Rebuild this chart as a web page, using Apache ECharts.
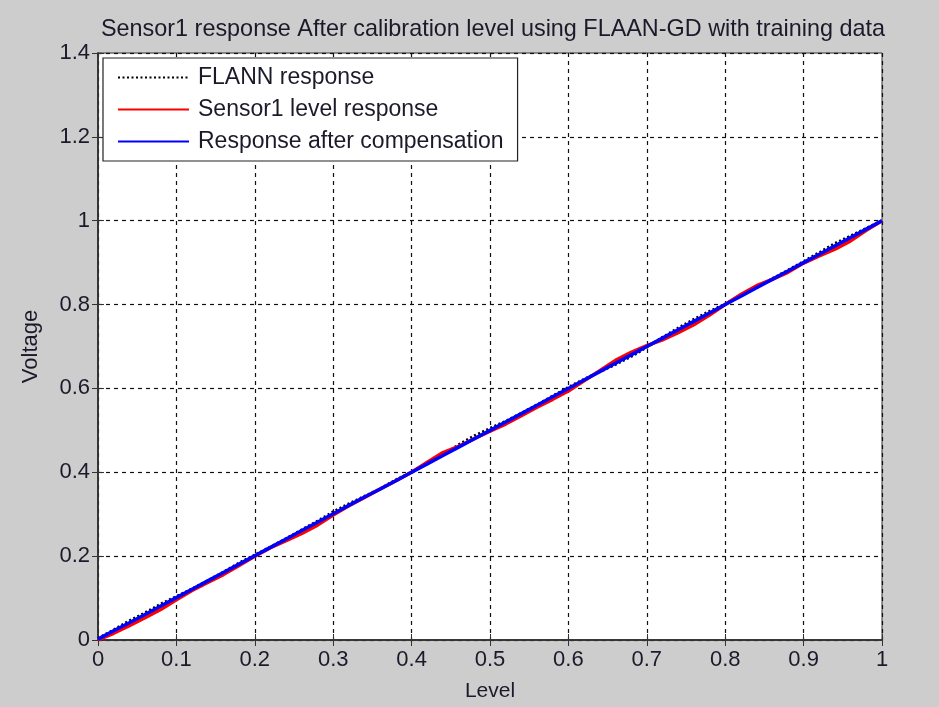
<!DOCTYPE html>
<html>
<head>
<meta charset="utf-8">
<script src="https://cdn.jsdelivr.net/npm/echarts@6/dist/echarts.min.js"></script>
<style>
html,body{margin:0;padding:0;background:#cdcdcd;}
#c{width:939px;height:707px;}
</style>
</head>
<body>
<div id="c"></div>
<script>
const levels = [0,0.02,0.04,0.06,0.08,0.10,0.12,0.14,0.16,0.18,0.20,0.22,0.24,0.26,0.28,0.30,0.32,0.34,0.36,0.38,0.40,0.42,0.44,0.46,0.48,0.50,0.52,0.54,0.56,0.58,0.60,0.62,0.64,0.66,0.68,0.70,0.72,0.74,0.76,0.78,0.80,0.82,0.84,0.86,0.88,0.90,0.92,0.94,0.96,0.98,1.00];
const flannResponse = [0.004,0.024,0.046,0.065,0.086,0.104,0.122,0.142,0.162,0.184,0.203,0.222,0.242,0.263,0.284,0.306,0.325,0.343,0.361,0.382,0.401,0.421,0.440,0.466,0.487,0.505,0.522,0.541,0.561,0.582,0.603,0.622,0.640,0.657,0.676,0.698,0.722,0.744,0.765,0.784,0.801,0.823,0.840,0.862,0.882,0.903,0.924,0.946,0.964,0.982,1.000];
const sensorResponse = [0.000,0.016,0.034,0.053,0.073,0.096,0.118,0.137,0.156,0.178,0.200,0.220,0.237,0.254,0.274,0.298,0.320,0.340,0.360,0.380,0.400,0.424,0.447,0.462,0.480,0.498,0.515,0.535,0.555,0.574,0.594,0.618,0.642,0.667,0.686,0.702,0.716,0.733,0.752,0.775,0.800,0.824,0.845,0.860,0.877,0.899,0.916,0.932,0.952,0.977,1.000];
const compensated = [0.002,0.022,0.041,0.061,0.081,0.101,0.121,0.141,0.161,0.181,0.201,0.221,0.241,0.261,0.281,0.301,0.321,0.341,0.360,0.380,0.400,0.420,0.440,0.460,0.480,0.500,0.520,0.540,0.560,0.580,0.600,0.620,0.640,0.660,0.680,0.700,0.720,0.740,0.760,0.780,0.800,0.820,0.840,0.860,0.880,0.900,0.920,0.940,0.960,0.980,1.000];
const xTicks = [0,0.1,0.2,0.3,0.4,0.5,0.6,0.7,0.8,0.9,1];
const yTicks = [0,0.2,0.4,0.6,0.8,1,1.2,1.4];

const FONT = '"Liberation Sans", Arial, sans-serif';
const pair = arr => levels.map((x,i)=>[x,arr[i]]);
const fmt = v => (Math.round(v*10)/10).toString();
const gridLine = {show:true, lineStyle:{color:'#111', width:1.2, type:[4,4]}};
const chart = echarts.init(document.getElementById('c'), null, {renderer:'canvas'});
chart.setOption({
  backgroundColor:'#cdcdcd',
  animation:false,
  title:{
    text:'Sensor1 response After calibration level using FLAAN-GD with training data',
    left:96, top:13,
    textStyle:{fontFamily:FONT, fontSize:23.4, fontWeight:'normal', color:'#1a1a2a'}
  },
  grid:{left:98, right:57, top:53, bottom:64, show:true, backgroundColor:'#fff', borderColor:'#333', borderWidth:1},
  legend:{
    orient:'vertical', left:103, top:58,
    backgroundColor:'#fff', borderColor:'#222', borderWidth:1.2,
    padding:[8,14,8,14], itemGap:9, itemWidth:71, itemHeight:14,
    itemStyle:{opacity:0},
    textStyle:{fontFamily:FONT, fontSize:23, color:'#1a1a2a', lineHeight:23, padding:[0,0,0,4]},
    data:['FLANN response','Sensor1 level response','Response after compensation']
  },
  xAxis:[{
    type:'value', min:0, max:1, interval:0.1, position:'bottom',
    name:'Level', nameLocation:'middle', nameGap:41,
    nameTextStyle:{fontFamily:FONT, fontSize:21, color:'#1a1a2a'},
    axisLine:{show:true, lineStyle:{color:'#333', width:1.5}},
    axisTick:{show:true, inside:true, length:6, lineStyle:{color:'#333'}},
    axisLabel:{fontFamily:FONT, fontSize:22, color:'#1a1a2a', margin:9, formatter:fmt},
    splitLine:gridLine
  },{
    type:'value', min:0, max:1, interval:0.1, position:'top',
    axisLine:{show:true, lineStyle:{color:'#333', width:1.5}},
    axisTick:{show:true, inside:true, length:6, lineStyle:{color:'#333'}},
    axisLabel:{show:false}, splitLine:{show:false}
  }],
  yAxis:[{
    type:'value', min:0, max:1.4, interval:0.2, position:'left',
    name:'Voltage', nameLocation:'middle', nameGap:56,
    nameTextStyle:{fontFamily:FONT, fontSize:22, color:'#1a1a2a'},
    axisLine:{show:true, lineStyle:{color:'#333', width:1.5}},
    axisTick:{show:true, inside:true, length:6, lineStyle:{color:'#333'}},
    axisLabel:{fontFamily:FONT, fontSize:22, color:'#1a1a2a', margin:8, formatter:fmt},
    splitLine:gridLine
  },{
    type:'value', min:0, max:1.4, interval:0.2, position:'right',
    axisLine:{show:true, lineStyle:{color:'#333', width:1.5}},
    axisTick:{show:true, inside:true, length:6, lineStyle:{color:'#333'}},
    axisLabel:{show:false}, splitLine:{show:false}
  }],
  series:[
    {name:'FLANN response', type:'line', data:pair(flannResponse), showSymbol:false, symbol:'none',
     lineStyle:{color:'#000', width:2.8, type:[2,2.5]}, itemStyle:{color:'#000'}, z:2},
    {name:'Sensor1 level response', type:'line', data:pair(sensorResponse), showSymbol:false, symbol:'none',
     lineStyle:{color:'#ff0000', width:3.5}, itemStyle:{color:'#ff0000'}, z:3},
    {name:'Response after compensation', type:'line', data:pair(compensated), showSymbol:false, symbol:'none',
     lineStyle:{color:'#0000ff', width:3.5}, itemStyle:{color:'#0000ff'}, z:4}
  ]
});
</script>
</body>
</html>
